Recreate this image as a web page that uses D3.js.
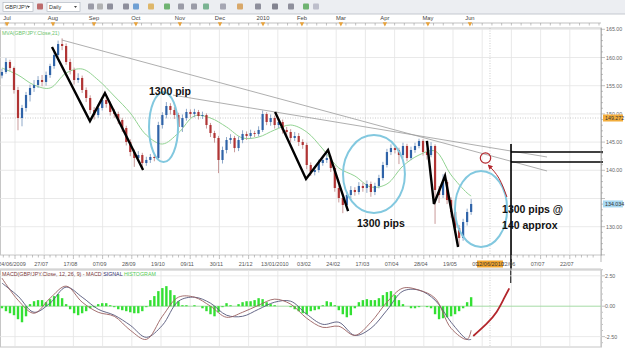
<!DOCTYPE html>
<html>
<head>
<meta charset="utf-8">
<script src="https://cdn.jsdelivr.net/npm/d3@7"></script>
<style>
  body { margin: 0; background: #fff; }
  svg { display: block; font-family: "Liberation Sans", Arial, sans-serif; }
</style>
</head>
<body>
<svg id="chart" width="625" height="348"></svg>
<script>
// ---- data ----
const opens = [156.80,157.43,159.20,158.14,154.24,149.27,151.05,153.35,154.59,155.12,156.01,155.66,156.90,158.49,160.44,162.39,162.04,159.20,157.78,156.01,
  156.37,154.24,152.82,150.69,149.80,151.05,152.46,151.76,150.34,149.98,148.92,147.50,145.02,143.24,142.18,142.71,141.29,141.83,142.36,142.18,
  148.03,149.80,151.40,150.69,149.80,147.68,149.27,150.34,149.98,150.34,149.63,149.80,148.03,146.61,145.73,141.83,143.60,145.37,145.73,143.95,
  145.37,146.44,146.08,146.61,146.44,147.15,149.98,148.56,149.27,148.03,148.56,147.15,146.79,145.73,146.08,145.02,144.49,140.94,139.70,140.05,
  141.29,141.83,142.18,140.41,136.86,135.09,133.85,135.62,136.51,136.15,137.22,136.86,137.57,136.15,137.22,138.63,140.94,143.24,143.95,143.60,
  142.71,144.31,142.18,143.60,144.31,145.20,143.24,142.71,144.31,136.51,135.62,137.93,134.73,132.61,129.77,128.00,130.83,132.61];
const highs = [158.0,159.9,159.6,158.4,154.8,151.6,153.9,155.2,156.0,156.7,156.9,157.5,158.9,161.0,163.0,163.4,162.5,159.8,158.2,157.2,
  156.8,154.7,153.3,151.2,151.7,153.0,152.9,152.2,150.9,150.4,149.3,147.9,145.5,143.7,143.4,143.1,142.4,142.9,143.0,148.6,
  150.3,152.1,151.9,151.2,150.2,149.9,150.9,150.8,150.9,150.7,150.4,150.1,148.4,147.0,146.1,144.2,145.9,146.4,146.1,146.0,
  147.1,146.9,147.2,147.0,147.8,150.6,150.3,149.9,149.7,149.2,149.0,147.7,147.3,146.8,146.6,145.5,144.9,141.4,140.7,141.9,
  142.5,143.1,142.6,140.8,137.3,135.6,136.2,137.2,137.0,137.9,137.8,138.2,138.0,137.8,139.2,141.5,143.8,144.6,144.5,144.0,
  144.9,144.7,144.2,144.9,145.6,145.5,143.8,145.0,144.6,137.2,139.3,138.3,135.2,133.0,130.3,131.4,133.2,134.9];
const lows = [156.3,157.1,157.6,153.6,147.1,147.8,150.4,152.2,153.9,154.6,154.9,155.0,156.4,158.0,160.0,161.3,158.7,157.0,155.2,155.5,
  153.7,152.1,150.0,149.0,149.3,150.6,151.1,149.7,149.3,148.2,146.8,144.4,142.5,140.6,141.6,140.1,140.8,141.3,141.6,141.9,
  147.4,149.2,149.9,149.1,147.0,146.8,148.8,149.3,149.4,149.0,149.1,147.4,145.9,144.9,139.5,141.2,143.0,144.7,143.2,143.4,
  144.8,145.4,145.6,145.9,146.0,146.8,148.0,147.9,147.4,147.5,146.5,146.1,145.0,145.2,144.3,143.8,140.2,139.0,139.1,139.6,
  140.8,141.3,139.7,136.2,134.3,132.4,133.3,135.0,135.5,135.7,136.2,136.0,135.3,135.6,136.8,138.2,140.5,142.7,143.0,141.1,
  142.2,141.6,141.8,143.1,143.9,142.6,141.9,142.3,130.5,134.2,135.1,134.0,131.6,128.9,126.6,127.5,130.2,132.1];
const closes = [157.43,159.20,158.14,154.24,149.27,151.05,153.35,154.59,155.12,156.01,155.66,156.90,158.49,160.44,162.39,162.04,159.20,157.78,156.01,156.37,
  154.24,152.82,150.69,149.80,151.05,152.46,151.76,150.34,149.98,148.92,147.50,145.02,143.24,142.18,142.71,141.29,141.83,142.36,142.18,148.03,
  149.80,151.40,150.69,149.80,147.68,149.27,150.34,149.98,150.34,149.63,149.80,148.03,146.61,145.73,141.83,143.60,145.37,145.73,143.95,145.37,
  146.44,146.08,146.61,146.44,147.15,149.98,148.56,149.27,148.03,148.56,147.15,146.79,145.73,146.08,145.02,144.49,140.94,139.70,140.05,141.29,
  141.83,142.18,140.41,136.86,135.09,133.85,135.62,136.51,136.15,137.22,136.86,137.57,136.15,137.22,138.63,140.94,143.24,143.95,143.60,142.71,
  144.31,142.18,143.60,144.31,145.20,143.24,142.71,144.31,136.51,135.62,137.93,134.73,132.61,129.77,128.00,130.83,132.61,134.03];

// candle index where the MA / MACD / signal values were read
const lineIdx = [0,4,8,12,16,20,24,28,32,36,40,44,48,52,56,60,64,68,72,76,80,84,88,92,96,100,104,108,112,116,117];
const mva21 = [158.14,156.90,155.12,154.59,157.25,157.96,156.01,153.17,150.16,146.26,144.66,146.61,149.63,149.27,147.68,145.73,
  145.90,147.15,148.03,146.79,143.78,140.41,138.99,137.04,137.57,140.76,142.71,143.42,139.17,135.97,135.44];
const macd = [2.31,0.50,-0.58,0.66,1.65,0.33,-0.50,-0.83,-1.98,-2.73,-0.83,0.74,0.74,0.00,-0.91,-0.50,
  0.08,0.58,0.17,-0.99,-1.74,-1.65,-2.40,-1.32,0.33,1.49,1.32,0.66,-1.82,-2.73,-1.98];
const signal = [1.90,0.83,-0.50,0.25,1.57,0.74,-0.25,-0.74,-1.57,-2.56,-1.57,0.41,0.74,0.25,-0.74,-0.83,
  -0.25,0.33,0.41,-0.66,-1.49,-1.32,-2.40,-1.82,-0.33,1.24,1.32,0.50,-1.32,-2.73,-2.73];
const histogram = [-0.17,-0.41,-0.58,-0.74,-1.07,-1.32,-0.83,0.17,0.41,0.50,0.50,0.33,0.58,0.83,0.99,0.66,0.17,-0.25,-0.58,-0.74,
  -0.58,-0.41,-0.17,-0.08,0.17,0.25,0.25,0.08,-0.08,-0.25,-0.33,-0.41,-0.50,-0.58,-0.58,-0.41,-0.08,0.50,0.83,1.24,
  1.49,1.65,1.32,0.91,0.41,0.08,0.08,0.00,0.08,0.00,-0.17,-0.41,-0.66,-0.83,-0.50,-0.08,0.25,0.08,0.00,0.17,
  0.33,0.41,0.41,0.50,0.66,0.58,0.33,0.17,0.08,0.00,0.00,0.00,-0.08,-0.25,-0.41,-0.58,-0.66,-0.41,-0.33,-0.25,
  0.08,0.41,0.33,0.08,-0.33,-0.66,-0.91,-0.74,-0.17,0.33,0.50,0.58,0.50,0.50,0.66,0.91,1.16,1.24,0.91,0.50,
  0.17,0.00,-0.17,-0.17,-0.08,0.00,-0.08,-0.17,-0.66,-1.07,-0.99,-0.91,-0.83,-0.66,-0.41,-0.17,0.33,0.74];

// axis labels
const months = ['Jul','Aug','Sep','Oct','Nov','Dec','2010','Feb','Mar','Apr','May','Jun'];
const monthSlots = [-4.1,19.5,40.6,62.1,84.7,105.3,127.4,147.4,167.4,190,212.1,233.7];
const dateLabels = ['24/06/2009','27/07','17/08','07/09','28/09','19/10','09/11','30/11','21/12','13/01/2010',
  '03/02','24/02','17/03','07/04','28/04','19/05','09/06','22/06','07/07','22/07'];
const priceTicks = [165,160,155,150,145,140,135,130];
const macdTicks = [2.5,0,-2.5];

// hand-drawn annotations, as [slot, price]
const zigzags = [
  [[19.0,161.86],[38.5,148.72],[46.2,153.69],[65.8,140.05]],
  [[133.6,150.33],[149.5,138.46],[160.8,143.6],[171.1,132.78]],
  [[211.6,145.2],[215.2,134.03],[220.9,139.0],[227.6,126.4]]
];
const trendLines = [
  [[24.1,163.1],[273.3,139.88]],
  [[81.2,153.33],[273.3,142.36]]
];
const ellipses = [ // centre slot, centre price, half-width in slots, half-height in price
  [76.3,147.66,7.45,6.2],
  [184.4,139.34,15.9,6.9],
  [239.4,133.15,13.4,6.74]
];
const redCurve = [[235.4,-2.45],[242.3,-1.43],[247.4,-0.47],[251.2,0.64],[253.9,1.46]];

// ---- layout ----
const W = 625, H = 348;
const plotRight = 601;
const mainTop = 28, mainBottom = 255;
const macdTop = 270, macdBottom = 347;
const candleStart = -6.7, candleStep = 2.06;
const crossSlot = 244, crossPrice = 149.272, lastPrice = 134.034;

const svg = d3.select('#chart');

const xs = d3.scaleLinear().domain([0, 15]).range([15, 44.2]);
const yP = d3.scaleLinear().domain([130, 165]).range([226.7, 29.3]);
const yM = d3.scaleLinear().domain([-2.5, 2.5]).range([336.6, 275.8]);
const cx = i => xs(candleStart + i * candleStep);

// toolbar
const tb = svg.append('g');
tb.append('rect').attr('width', W).attr('height', 14).attr('fill', '#eceef2');
tb.append('line').attr('x1', 0).attr('x2', W).attr('y1', 14).attr('y2', 14).attr('stroke', '#c5c9d0');
[[3, 30, 'GBP/JPY'], [47, 33, 'Daily']].forEach(([x, w, t]) => {
  tb.append('rect').attr('x', x).attr('y', 2.5).attr('width', w).attr('height', 9)
    .attr('fill', '#fff').attr('stroke', '#a9afb9').attr('stroke-width', 0.6);
  tb.append('text').attr('x', x + 2).attr('y', 9).attr('font-size', 5.5).attr('fill', '#333').text(t);
  tb.append('path').attr('d', `M${x + w - 6},6 l3,0 l-1.5,2 z`).attr('fill', '#444');
});
const icons = [[37, '#a33'], [88, '#778'], [97, '#999'], [107, '#667'], [123, '#667'], [133, '#3a7fc8'], [148, '#d9a030'],
  [164, '#3a9a3a'], [178, '#778'], [191, '#778'], [203, '#4a9a6a'], [220, '#889'], [237, '#d08a30'], [255, '#667'],
  [272, '#556'], [288, '#667'], [303, '#3a9a3a'], [313, '#aab']];
icons.forEach(([x, c]) => {
  tb.append('rect').attr('x', x).attr('y', 3.5).attr('width', 6).attr('height', 6).attr('rx', 1)
    .attr('fill', c).attr('opacity', 0.7);
});

// top month axis
const topAxis = svg.append('g');
topAxis.append('line').attr('x1', 0).attr('x2', plotRight).attr('y1', 23).attr('y2', 23).attr('stroke', '#999').attr('stroke-width', 0.6);
topAxis.selectAll('line.mt').data(d3.range(-5, 301, 5)).join('line')
  .attr('x1', d => xs(d)).attr('x2', d => xs(d)).attr('y1', 23).attr('y2', 25.5)
  .attr('stroke', '#999').attr('stroke-width', 0.6);
topAxis.selectAll('text').data(months).join('text')
  .attr('x', (d, i) => xs(monthSlots[i])).attr('y', 20).attr('text-anchor', 'middle')
  .attr('font-size', 5.8).attr('fill', '#444').text(d => d);
topAxis.selectAll('path').data(monthSlots).join('path')
  .attr('d', d => `M${xs(d) - 2.2},22.3 L${xs(d) + 2.2},22.3 L${xs(d)},26.5 Z`).attr('fill', '#e8a23a');

// main panel frame + grid
svg.append('rect').attr('x', 0.5).attr('y', mainTop).attr('width', plotRight).attr('height', mainBottom - mainTop)
  .attr('fill', '#fff').attr('stroke', '#c6c6c6');
const gridSlots = d3.range(0, 286, 15);
svg.append('g').selectAll('line').data(gridSlots).join('line')
  .attr('x1', d => xs(d)).attr('x2', d => xs(d)).attr('y1', mainTop).attr('y2', mainBottom)
  .attr('stroke', '#e3e3e3').attr('stroke-width', 0.8);
svg.append('g').selectAll('line').data(priceTicks).join('line')
  .attr('x1', 0).attr('x2', plotRight).attr('y1', d => yP(d)).attr('y2', d => yP(d))
  .attr('stroke', '#e3e3e3').attr('stroke-width', 0.8);

// crosshair
svg.append('line').attr('x1', 0).attr('x2', plotRight).attr('y1', yP(crossPrice)).attr('y2', yP(crossPrice))
  .attr('stroke', '#b5b5b5').attr('stroke-width', 0.7).attr('stroke-dasharray', '1,1.5');
[[mainTop, mainBottom], [macdTop, macdBottom]].forEach(([a, b]) => {
  svg.append('line').attr('x1', xs(crossSlot)).attr('x2', xs(crossSlot)).attr('y1', a).attr('y2', b)
    .attr('stroke', '#b5b5b5').attr('stroke-width', 0.7).attr('stroke-dasharray', '1,1.5');
});

// moving average
const maLine = d3.line().x((d, k) => cx(lineIdx[k])).y(d => yP(d)).curve(d3.curveCatmullRom);
svg.append('path').datum(mva21).attr('d', maLine).attr('fill', 'none').attr('stroke', '#92d392').attr('stroke-width', 1);

// candles
const candles = svg.append('g').selectAll('g').data(closes).join('g');
candles.append('line')
  .attr('x1', (d, i) => cx(i)).attr('x2', (d, i) => cx(i))
  .attr('y1', (d, i) => yP(highs[i])).attr('y2', (d, i) => yP(lows[i]))
  .attr('stroke', (d, i) => d >= opens[i] ? '#8fa9c9' : '#c99a9a').attr('stroke-width', 1);
candles.append('rect')
  .attr('x', (d, i) => cx(i) - 1.1).attr('width', 2.2)
  .attr('y', (d, i) => yP(Math.max(d, opens[i])))
  .attr('height', (d, i) => Math.max(0.8, Math.abs(yP(d) - yP(opens[i]))))
  .attr('fill', (d, i) => d >= opens[i] ? '#2f63a8' : '#b03434');

// trend lines
const ptLine = d3.line().x(d => xs(d[0])).y(d => yP(d[1]));
svg.append('g').selectAll('path').data(trendLines).join('path')
  .attr('d', ptLine).attr('fill', 'none').attr('stroke', '#9a9a9a').attr('stroke-width', 0.8);

// ellipses
svg.append('g').selectAll('ellipse').data(ellipses).join('ellipse')
  .attr('cx', d => xs(d[0])).attr('cy', d => yP(d[1]))
  .attr('rx', d => xs(d[0] + d[2]) - xs(d[0])).attr('ry', d => yP(d[1] - d[3]) - yP(d[1]))
  .attr('fill', 'none').attr('stroke', '#82c8df').attr('stroke-width', 2);

// zigzags
svg.append('g').selectAll('path').data(zigzags).join('path')
  .attr('d', ptLine).attr('fill', 'none').attr('stroke', '#000').attr('stroke-width', 2.4)
  .attr('stroke-linejoin', 'miter');

// red circle + arrow
svg.append('defs').append('marker').attr('id', 'arr').attr('viewBox', '0 0 10 10')
  .attr('refX', 8).attr('refY', 5).attr('markerWidth', 5).attr('markerHeight', 5).attr('orient', 'auto')
  .append('path').attr('d', 'M0,0 L10,5 L0,10 Z').attr('fill', '#b3262c');
svg.append('circle').attr('cx', xs(241.7)).attr('cy', yP(142.18)).attr('r', 5.2)
  .attr('fill', 'none').attr('stroke', '#b3262c').attr('stroke-width', 1.2);
svg.append('path')
  .attr('d', d3.line().x(d => xs(d[0])).y(d => yP(d[1])).curve(d3.curveNatural)([[252.7, 135.27], [248.6, 138.6], [243.2, 140.9]]))
  .attr('fill', 'none').attr('stroke', '#b3262c').attr('stroke-width', 1).attr('marker-end', 'url(#arr)');

// black target lines
svg.append('line').attr('x1', xs(254.8)).attr('x2', xs(254.8)).attr('y1', yP(144.66)).attr('y2', yM(1.9))
  .attr('stroke', '#000').attr('stroke-width', 1.6);
[143.24, 141.47].forEach(p => {
  svg.append('line').attr('x1', xs(254.8)).attr('x2', 603).attr('y1', yP(p)).attr('y2', yP(p))
    .attr('stroke', '#000').attr('stroke-width', 1.4);
});

// annotation texts
const notes = [[68.8, 153.35, '1300 pip'], [175.7, 129.95, '1300 pips'], [250.2, 132.43, '1300 pips @'], [250.2, 129.6, '140 approx']];
svg.append('g').selectAll('text').data(notes).join('text')
  .attr('x', d => xs(d[0])).attr('y', d => yP(d[1]))
  .attr('font-weight', 'bold').attr('font-size', 10.5).attr('fill', '#111').text(d => d[2]);

svg.append('text').attr('x', 2).attr('y', 34.5).attr('font-size', 5.2).attr('fill', '#6cc46c')
  .text('MVA(GBP/JPY.Close,21)');

// right price axis
const ra = svg.append('g');
ra.append('line').attr('x1', plotRight).attr('x2', plotRight).attr('y1', mainTop).attr('y2', 262).attr('stroke', '#999').attr('stroke-width', 0.7);
ra.selectAll('line.mn').data(d3.range(125, 166, 1)).join('line')
  .attr('x1', plotRight).attr('x2', d => plotRight + (d % 5 === 0 ? 4 : 2))
  .attr('y1', d => yP(d)).attr('y2', d => yP(d)).attr('stroke', '#999').attr('stroke-width', 0.6);
ra.selectAll('text').data(priceTicks.filter(d => d !== 135)).join('text')
  .attr('x', 606).attr('y', d => yP(d) + 2).attr('font-size', 5.3).attr('fill', '#666')
  .text(d => d.toFixed(2));
[[crossPrice, '#f2ad3c', '149.272'], [lastPrice, '#a9d9f2', '134.034']].forEach(([p, c, t]) => {
  ra.append('rect').attr('x', 603).attr('y', yP(p) - 3.5).attr('width', 20).attr('height', 7).attr('fill', c);
  ra.append('text').attr('x', 605).attr('y', yP(p) + 1.9).attr('font-size', 5.3).attr('fill', '#333').text(t);
});

// bottom date axis
const ba = svg.append('g');
ba.selectAll('line').data(d3.range(-6, 300, 3)).join('line')
  .attr('x1', d => xs(d)).attr('x2', d => xs(d)).attr('y1', mainBottom).attr('y2', d => mainBottom + (d % 15 === 0 ? 4 : 2.5))
  .attr('stroke', '#999').attr('stroke-width', 0.6);
ba.selectAll('text').data(dateLabels).join('text')
  .attr('x', (d, i) => xs(i * 15) - 3).attr('y', 266).attr('text-anchor', 'middle')
  .attr('font-size', 5.5).attr('fill', '#555').text(d => d);
ba.append('rect').attr('x', xs(crossSlot) - 13).attr('y', 260.5).attr('width', 26).attr('height', 7).attr('fill', '#f2a52e');
ba.append('text').attr('x', xs(crossSlot)).attr('y', 266).attr('text-anchor', 'middle')
  .attr('font-size', 5.5).attr('fill', '#333').text('12/06/2010');
svg.append('line').attr('x1', 0).attr('x2', plotRight).attr('y1', 269).attr('y2', 269).attr('stroke', '#c6c6c6');

// MACD panel
svg.append('rect').attr('x', 0.5).attr('y', macdTop).attr('width', plotRight).attr('height', macdBottom - macdTop)
  .attr('fill', 'none').attr('stroke', '#c6c6c6');
svg.append('g').selectAll('line').data(gridSlots).join('line')
  .attr('x1', d => xs(d)).attr('x2', d => xs(d)).attr('y1', macdTop).attr('y2', macdBottom)
  .attr('stroke', '#e3e3e3').attr('stroke-width', 0.8);
svg.append('g').selectAll('line').data(macdTicks).join('line')
  .attr('x1', 0).attr('x2', plotRight).attr('y1', d => yM(d)).attr('y2', d => yM(d))
  .attr('stroke', d => d === 0 ? '#a6dba6' : '#e3e3e3').attr('stroke-width', d => d === 0 ? 1 : 0.8);

svg.append('g').selectAll('rect').data(histogram).join('rect')
  .attr('x', (d, i) => cx(i) - 1.2).attr('width', 2.4)
  .attr('y', d => yM(Math.max(0, d))).attr('height', d => Math.abs(yM(d) - yM(0)))
  .attr('fill', '#33e033');

const mLine = d3.line().x((d, k) => cx(lineIdx[k])).y(d => yM(d)).curve(d3.curveCatmullRom);
svg.append('path').datum(signal).attr('d', mLine).attr('fill', 'none').attr('stroke', '#55577a').attr('stroke-width', 0.9);
svg.append('path').datum(macd).attr('d', mLine).attr('fill', 'none').attr('stroke', '#9a6060').attr('stroke-width', 0.9);

svg.append('path').datum(redCurve)
  .attr('d', d3.line().x(d => xs(d[0])).y(d => yM(d[1])).curve(d3.curveNatural))
  .attr('fill', 'none').attr('stroke', '#b3262c').attr('stroke-width', 1.8);

const lg = svg.append('text').attr('x', 2).attr('y', 276).attr('font-size', 5.3);
lg.append('tspan').attr('fill', '#7a3a3a').text('MACD(GBP/JPY.Close, 12, 26, 9) -  MACD ');
lg.append('tspan').attr('fill', '#2c2c6a').text('SIGNAL ');
lg.append('tspan').attr('fill', '#55cc55').text('HISTOGRAM');

// right MACD axis
ra.append('line').attr('x1', plotRight).attr('x2', plotRight).attr('y1', macdTop).attr('y2', macdBottom).attr('stroke', '#999').attr('stroke-width', 0.7);
ra.selectAll('line.mm').data(d3.range(-3, 3.01, 0.5)).join('line')
  .attr('x1', plotRight).attr('x2', d => plotRight + (Math.abs(d % 2.5) < 0.01 ? 4 : 2))
  .attr('y1', d => yM(d)).attr('y2', d => yM(d)).attr('stroke', '#999').attr('stroke-width', 0.6);
ra.selectAll('text.mt').data(macdTicks).join('text')
  .attr('x', 605).attr('y', d => yM(d) + 2).attr('font-size', 5.3).attr('fill', '#666')
  .text(d => d.toFixed(2));
</script>
</body>
</html>
